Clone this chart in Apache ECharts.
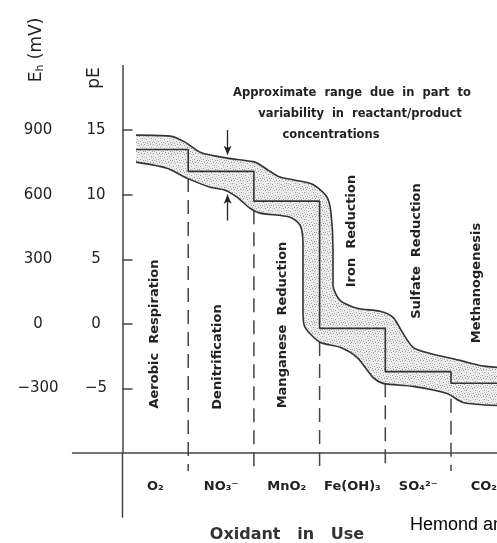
<!DOCTYPE html>
<html><head><meta charset="utf-8">
<script src="https://cdn.jsdelivr.net/npm/echarts@6/dist/echarts.min.js"></script>
<style>html,body{margin:0;padding:0;background:#fff}#c{width:497px;height:543px}</style>
</head><body><div id="c"></div>
<script>
// ---- data ----
const oxidants = ['O\u2082', 'NO\u2083\u207B', 'MnO\u2082', 'Fe(OH)\u2083', 'SO\u2084\u00B2\u207B', 'CO\u2082'];
const oxidantPos = [0.5, 1.5, 2.5, 3.5, 4.5, 5.5];
const zoneNames = ['Aerobic  Respiration', 'Denitrification', 'Manganese  Reduction', 'Iron  Reduction', 'Sulfate  Reduction', 'Methanogenesis'];
const peTicks = [-5, 0, 5, 10, 15];
const ehTicks = [-300, 0, 300, 600, 900];
const upperCurve = [[0.205,14.61],[0.723,14.53],[0.951,14.07],[1.180,13.29],[1.591,12.83],[2.017,12.52],[2.215,11.90],[2.397,11.36],[2.854,10.89],[2.961,10.58],[3.113,9.81],[3.174,8.57],[3.204,5.70],[3.204,2.98],[3.311,1.82],[3.570,1.20],[3.920,0.97],[4.118,0.50],[4.270,-0.74],[4.422,-1.82],[4.680,-2.29],[5.137,-2.83],[5.441,-3.22],[5.700,-3.37]];
const lowerCurve = [[0.205,12.52],[0.677,12.05],[0.982,11.28],[1.332,10.58],[1.560,10.35],[1.743,9.81],[1.941,8.95],[2.093,8.57],[2.549,8.26],[2.702,7.64],[2.747,6.24],[2.747,0.81],[2.778,-0.27],[3.006,-1.43],[3.311,-1.82],[3.570,-2.60],[3.813,-4.15],[3.965,-4.61],[4.422,-4.84],[4.939,-5.39],[5.183,-6.09],[5.700,-6.32]];
const zoneEdges = [0.205, 1, 2, 3, 4, 5, 5.7];
const midLevels = [13.5, 11.8, 9.5, -0.35, -3.7, -4.6];
const boundaryX = [1, 2, 3, 4, 5];
const boundaryTop = [11.3, 8.8, -1.4, -4.6, -5.8];
const boundaryBottom = -11.4;
const arrowX = 1.6;
const arrowDown = [15.0, 13.1];
const arrowUp = [8.0, 10.0];
const xAxisLeftEnd = -0.77;   // x-axis line runs left past the pE axis
const yAxisLowEnd = -15;      // pE axis line runs below the x-axis

// ---- build ----
const midStep = [];
midLevels.forEach((v, i) => { midStep.push([zoneEdges[i], v]); midStep.push([zoneEdges[i + 1], v]); });

// stipple texture for the uncertainty band
const pc = document.createElement('canvas'); pc.width = 9; pc.height = 9;
const g = pc.getContext('2d');
g.fillStyle = '#eeeeee'; g.fillRect(0, 0, 9, 9);
g.fillStyle = '#9c9c9c';
[[0,0],[4,1],[7,3],[2,4],[5,6],[8,7],[1,7],[6,0],[3,8]].forEach(p => g.fillRect(p[0], p[1], 1, 1));
g.fillStyle = '#c8c8c8';
[[2,1],[8,1],[0,3],[5,3],[3,6],[7,5],[0,5],[6,8]].forEach(p => g.fillRect(p[0], p[1], 1, 1));

const ink = '#333';
const axisInk = '#444';
const lineStyle = { color: ink, width: 1.6 };
const font = 'DejaVu Sans';
const SM = 0.25;
const fmtNum = v => String(v).replace('-', '\u2212');

const chart = echarts.init(document.getElementById('c'), null, { renderer: 'canvas' });
const zonePos = [[155, 334], [218, 357], [283, 325], [352, 231], [417, 251], [477, 283]];

chart.setOption({
  animation: false,
  backgroundColor: '#fff',
  grid: { left: 122.5, right: 0, top: 65.5, bottom: 90, containLabel: false, outerBoundsMode: 'none' },
  xAxis: {
    type: 'value', min: 0, max: 5.7,
    axisLine: { onZero: false, lineStyle: { color: axisInk, width: 1.5 } },
    axisTick: { show: false },
    splitLine: { show: false },
    axisLabel: {
      customValues: oxidantPos, margin: 27, color: '#222', fontFamily: font, fontSize: 13, fontWeight: 'bold',
      formatter: v => oxidants[oxidantPos.indexOf(v)] || ''
    }
  },
  yAxis: [
    {
      type: 'value', min: -10, max: 20, interval: 5, position: 'left',
      axisLine: { show: true, onZero: false, lineStyle: { color: axisInk, width: 1.5 } },
      axisTick: { show: true, inside: true, length: 10, customValues: peTicks, lineStyle: { color: axisInk, width: 1.5 } },
      splitLine: { show: false },
      axisLabel: { customValues: peTicks, margin: 26.5, align: 'center', color: '#222', fontFamily: font, fontSize: 15, formatter: fmtNum }
    },
    {
      type: 'value', min: -600, max: 1200, position: 'left',
      axisLine: { show: false, onZero: false },
      axisTick: { show: false },
      splitLine: { show: false },
      axisLabel: { customValues: ehTicks, margin: 84.5, align: 'center', color: '#222', fontFamily: font, fontSize: 15, formatter: fmtNum }
    }
  ],
  series: [
    {
      type: 'custom', silent: true, z: 1, data: [0],
      renderItem: (params, api) => {
        const pts = upperCurve.concat(lowerCurve.slice().reverse()).map(p => api.coord(p));
        return { type: 'polygon', shape: { points: pts }, style: { fill: { image: pc, repeat: 'repeat' }, stroke: null } };
      }
    },
    {
      type: 'custom', silent: true, clip: false, z: 2, data: [0],
      renderItem: (params, api) => {
        const o = api.coord([0, -10]);
        const l = api.coord([xAxisLeftEnd, -10]);
        const b = api.coord([0, yAxisLowEnd]);
        const st = { stroke: axisInk, lineWidth: 1.5 };
        const kids = [
          { type: 'line', shape: { x1: l[0], y1: l[1], x2: o[0], y2: o[1] }, style: st },
          { type: 'line', shape: { x1: o[0], y1: o[1], x2: b[0], y2: b[1] }, style: st }
        ];
        boundaryX.forEach((x, i) => {
          const t = api.coord([x, boundaryTop[i]]);
          const d = api.coord([x, boundaryBottom]);
          kids.push({ type: 'line', shape: { x1: t[0], y1: t[1], x2: d[0], y2: d[1] }, style: { stroke: axisInk, lineWidth: 1.5, lineDash: [14, 8] } });
        });
        return { type: 'group', children: kids };
      }
    },
    { type: 'line', data: upperCurve, symbol: 'none', smooth: SM, lineStyle, z: 3, silent: true },
    { type: 'line', data: lowerCurve, symbol: 'none', smooth: SM, lineStyle, z: 3, silent: true },
    { type: 'line', data: midStep, symbol: 'none', lineStyle, z: 3, silent: true },
    {
      type: 'line', data: [], symbol: 'none', silent: true,
      markLine: {
        silent: true, symbol: ['none', 'arrow'], symbolSize: [6, 9], label: { show: false },
        lineStyle: { type: 'solid', color: '#222', width: 1.3 },
        data: [
          [{ coord: [arrowX, arrowDown[0]] }, { coord: [arrowX, arrowDown[1]] }],
          [{ coord: [arrowX, arrowUp[0]] }, { coord: [arrowX, arrowUp[1]] }]
        ]
      }
    }
  ],
  graphic: [
    { type: 'text', x: 37, y: 50, rotation: Math.PI / 2, style: { text: 'E{s|h} (mV)', align: 'center', verticalAlign: 'middle', font: '17px "DejaVu Sans"', fill: '#222', rich: { s: { fontSize: 11, fontFamily: font, verticalAlign: 'bottom', padding: [6, 0, 0, 0] } } } },
    { type: 'text', x: 95, y: 78, rotation: Math.PI / 2, style: { text: 'pE', align: 'center', verticalAlign: 'middle', font: '17px "DejaVu Sans"', fill: '#222' } },
    { type: 'text', x: 352, y: 93, style: { text: 'Approximate  range  due  in  part  to', align: 'center', verticalAlign: 'middle', font: 'bold 11.5px "DejaVu Sans"', fill: '#222' } },
    { type: 'text', x: 360, y: 114, style: { text: 'variability  in  reactant/product', align: 'center', verticalAlign: 'middle', font: 'bold 11.5px "DejaVu Sans"', fill: '#222' } },
    { type: 'text', x: 331, y: 135, style: { text: 'concentrations', align: 'center', verticalAlign: 'middle', font: 'bold 11.5px "DejaVu Sans"', fill: '#222' } },
    ...zoneNames.map((n, i) => ({ type: 'text', x: zonePos[i][0], y: zonePos[i][1], rotation: Math.PI / 2, style: { text: n, align: 'center', verticalAlign: 'middle', font: 'bold 13px "DejaVu Sans"', fill: '#222' } })),
    { type: 'text', x: 287, y: 535, style: { text: 'Oxidant   in   Use', align: 'center', verticalAlign: 'middle', font: 'bold 16px "DejaVu Sans"', fill: '#333' } },
    { type: 'text', x: 410, y: 525, style: { text: 'Hemond and Fechner-Levy', align: 'left', verticalAlign: 'middle', font: '18px "Liberation Sans"', fill: '#000' } }
  ]
});
</script></body></html>
